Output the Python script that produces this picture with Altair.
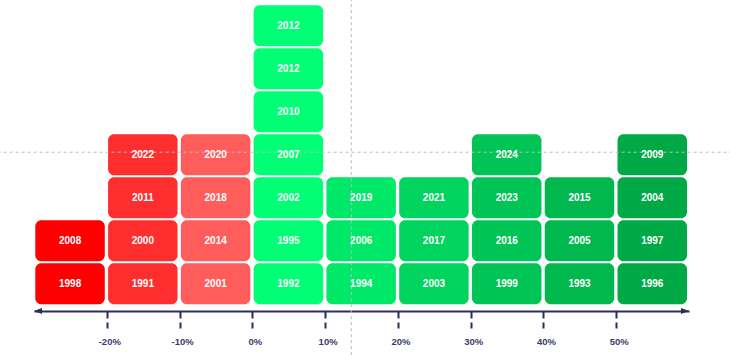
import altair as alt
import pandas as pd

# ---- data ----
bin_starts = [-30, -20, -10, 0, 10, 20, 30, 40, 50]
bin_years = [
    [1998, 2008],
    [1991, 2000, 2011, 2022],
    [2001, 2014, 2018, 2020],
    [1992, 1995, 2002, 2007, 2010, 2012, 2012],
    [1994, 2006, 2019],
    [2003, 2017, 2021],
    [1999, 2016, 2023, 2024],
    [1993, 2005, 2015],
    [1996, 1997, 2004, 2009],
]
bin_colors = ["#ff0000", "#ff2e2e", "#ff5c5c", "#00ff75", "#00e868",
              "#00d45e", "#00c455", "#00b84e", "#00a846"]
tick_values = [-20, -10, 0, 10, 20, 30, 40, 50]
bin_width = 10

# crosshair (hover position) in data units
cross_x = 13.6
cross_y = 3.56

NAVY = "#2d2d5f"

rows = []
for start, years, color in zip(bin_starts, bin_years, bin_colors):
    for i, yr in enumerate(years):
        rows.append({"lo": start, "hi": start + bin_width, "row": i, "top": i + 1,
                     "mid": i + 0.5, "xc": start + bin_width / 2,
                     "year": str(yr), "color": color})
df = pd.DataFrame(rows)

X_DOM = [-30, 60]
Y_DOM = [-0.1326, 7.1]

xs = alt.Scale(domain=X_DOM, nice=False, zero=False)
ys = alt.Scale(domain=Y_DOM, nice=False, zero=False)

xaxis = alt.Axis(values=tick_values, labelExpr="datum.value + '%'", title=None,
                 grid=False, domain=True, domainColor=NAVY, domainWidth=2,
                 ticks=True, tickSize=17, tickWidth=2, tickColor=NAVY,
                 tickDash=[7, 4], labelFont="Liberation Sans", labelFontSize=9.5,
                 labelFontWeight="bold", labelColor="#3b3b6b", labelPadding=8,
                 labelOffset=2.5)

base = alt.Chart(df)

rects = base.mark_rect(cornerRadius=6, xOffset=1.3, x2Offset=-2, yOffset=-1, y2Offset=1).encode(
    x=alt.X("lo:Q", scale=xs, axis=xaxis),
    x2="hi:Q",
    y=alt.Y("row:Q", scale=ys, axis=None),
    y2="top:Q",
    color=alt.Color("color:N", scale=None),
)

texts = base.mark_text(font="Liberation Sans", fontSize=10, fontWeight="bold",
                       color="white", xOffset=-0.3).encode(
    x=alt.X("xc:Q", scale=xs),
    y=alt.Y("mid:Q", scale=ys),
    text="year:N",
)

cross_v = alt.Chart(pd.DataFrame({"x": [cross_x], "y": [-1.3], "y2": [7.3]})).mark_rule(
    color="#bbbbbb", strokeDash=[3, 3], strokeWidth=1).encode(
    x=alt.X("x:Q", scale=xs), y=alt.Y("y:Q", scale=ys), y2="y2:Q")
cross_h = alt.Chart(pd.DataFrame({"y": [cross_y], "x": [-35], "x2": [66]})).mark_rule(
    color="#bbbbbb", strokeDash=[3, 3], strokeWidth=1).encode(
    y=alt.Y("y:Q", scale=ys), x=alt.X("x:Q", scale=xs), x2="x2:Q")

arrow_df = pd.DataFrame({
    "x": [X_DOM[0], X_DOM[1]],
    "y": [Y_DOM[0], Y_DOM[0]],
    "shape": ["M0,0L2,-0.75L2,0.75Z", "M0,0L-2,-0.75L-2,0.75Z"],
})
arrows = alt.Chart(arrow_df).mark_point(filled=True, size=64, opacity=1,
                                         color=NAVY, strokeWidth=0).encode(
    x=alt.X("x:Q", scale=xs), y=alt.Y("y:Q", scale=ys),
    shape=alt.Shape("shape:N", scale=None),
)

chart = alt.layer(rects, cross_v, cross_h, texts, arrows).properties(
    width=655, height=311,
    padding={"left": 34, "top": 0, "right": 41, "bottom": 44},
    autosize=alt.AutoSizeParams(type="none"),
    background="white",
).configure_view(stroke=None)

chart.save("out.html", embed_options={"renderer": "svg", "actions": False})
